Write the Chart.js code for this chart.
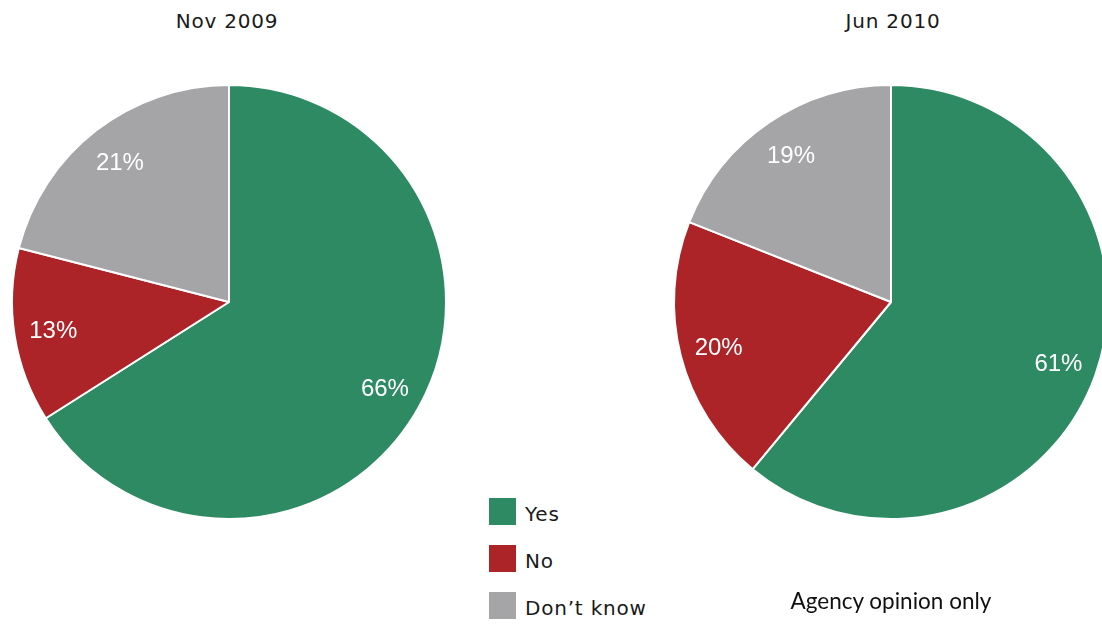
<!DOCTYPE html>
<html>
<head>
<meta charset="utf-8">
<script src="https://cdn.jsdelivr.net/npm/chart.js@4.4.1/dist/chart.umd.min.js"></script>
<style>
    html, body { margin: 0; padding: 0; background: #fff; }
    body { width: 1102px; height: 624px; position: relative; overflow: hidden; }
    .pie { position: absolute; top: 0; width: 460px; height: 604px; }
    .title { position: absolute; top: 9px; width: 200px; text-align: center; font: 20px "DejaVu Sans", sans-serif; letter-spacing: 0.8px; color: #1a1a1a; }
    #legend { position: absolute; left: 489px; top: 498px; }
    .item { position: relative; height: 47px; font: 20px "DejaVu Sans", sans-serif; letter-spacing: 0.8px; color: #1a1a1a; }
    .swatch { position: absolute; left: 0; top: 0; width: 27px; height: 27px; }
    .item span { position: absolute; left: 36px; top: 4px; white-space: nowrap; }
    #note { position: absolute; left: 760px; top: 587px; width: 262px; text-align: center; font: 22.5px Lato, sans-serif; color: #111; }
</style>
</head>
<body>
<div class="title" style="left:127px">Nov 2009</div>
<div class="title" style="left:793px">Jun 2010</div>
<canvas id="pie2009" class="pie" style="left:-1px"></canvas>
<canvas id="pie2010" class="pie" style="left:661px"></canvas>
<div id="legend"></div>
<div id="note">Agency opinion only</div>
<script>
const categories = ['Yes', 'No', 'Don\u2019t know'];
const nov2009 = [66, 13, 21];
const jun2010 = [61, 20, 19];
const colors = ['#2d8a63', '#ac2428', '#a5a5a8'];

// white percentage labels inside each slice
const sliceLabels = {
    id: 'sliceLabels',
    afterDatasetsDraw(chart) {
        const ctx = chart.ctx;
        const values = chart.data.datasets[0].data;
        ctx.save();
        ctx.fillStyle = '#fff';
        ctx.font = '24px "Liberation Sans", Arial, sans-serif';
        ctx.textAlign = 'center';
        ctx.textBaseline = 'middle';
        chart.getDatasetMeta(0).data.forEach((arc, i) => {
            const p = arc.getProps(['x', 'y', 'startAngle', 'endAngle', 'outerRadius']);
            const mid = (p.startAngle + p.endAngle) / 2;
            const r = p.outerRadius * 0.82;
            ctx.fillText(values[i] + '%', p.x + Math.cos(mid) * r, p.y + 2 + Math.sin(mid) * r);
        });
        ctx.restore();
    }
};

function makePie(id, values) {
    new Chart(document.getElementById(id), {
        type: 'pie',
        data: {
            labels: categories,
            datasets: [{
                data: values,
                backgroundColor: colors,
                borderColor: '#fff',
                borderWidth: 2
            }]
        },
        options: {
            responsive: false,
            animation: false,
            radius: 217,
            layout: { padding: 0 },
            plugins: {
                legend: { display: false },
                title: { display: false },
                tooltip: { enabled: false }
            }
        },
        plugins: [sliceLabels]
    });
}

function buildLegend() {
    const legend = document.getElementById('legend');
    categories.forEach((name, i) => {
        const item = document.createElement('div');
        item.className = 'item';
        item.innerHTML = `<div class="swatch" style="background:${colors[i]}"></div><span>${name}</span>`;
        legend.appendChild(item);
    });
}

document.querySelectorAll('canvas.pie').forEach(c => { c.width = 460; c.height = 604; });
makePie('pie2009', nov2009);
makePie('pie2010', jun2010);
buildLegend();
</script>
</body>
</html>
